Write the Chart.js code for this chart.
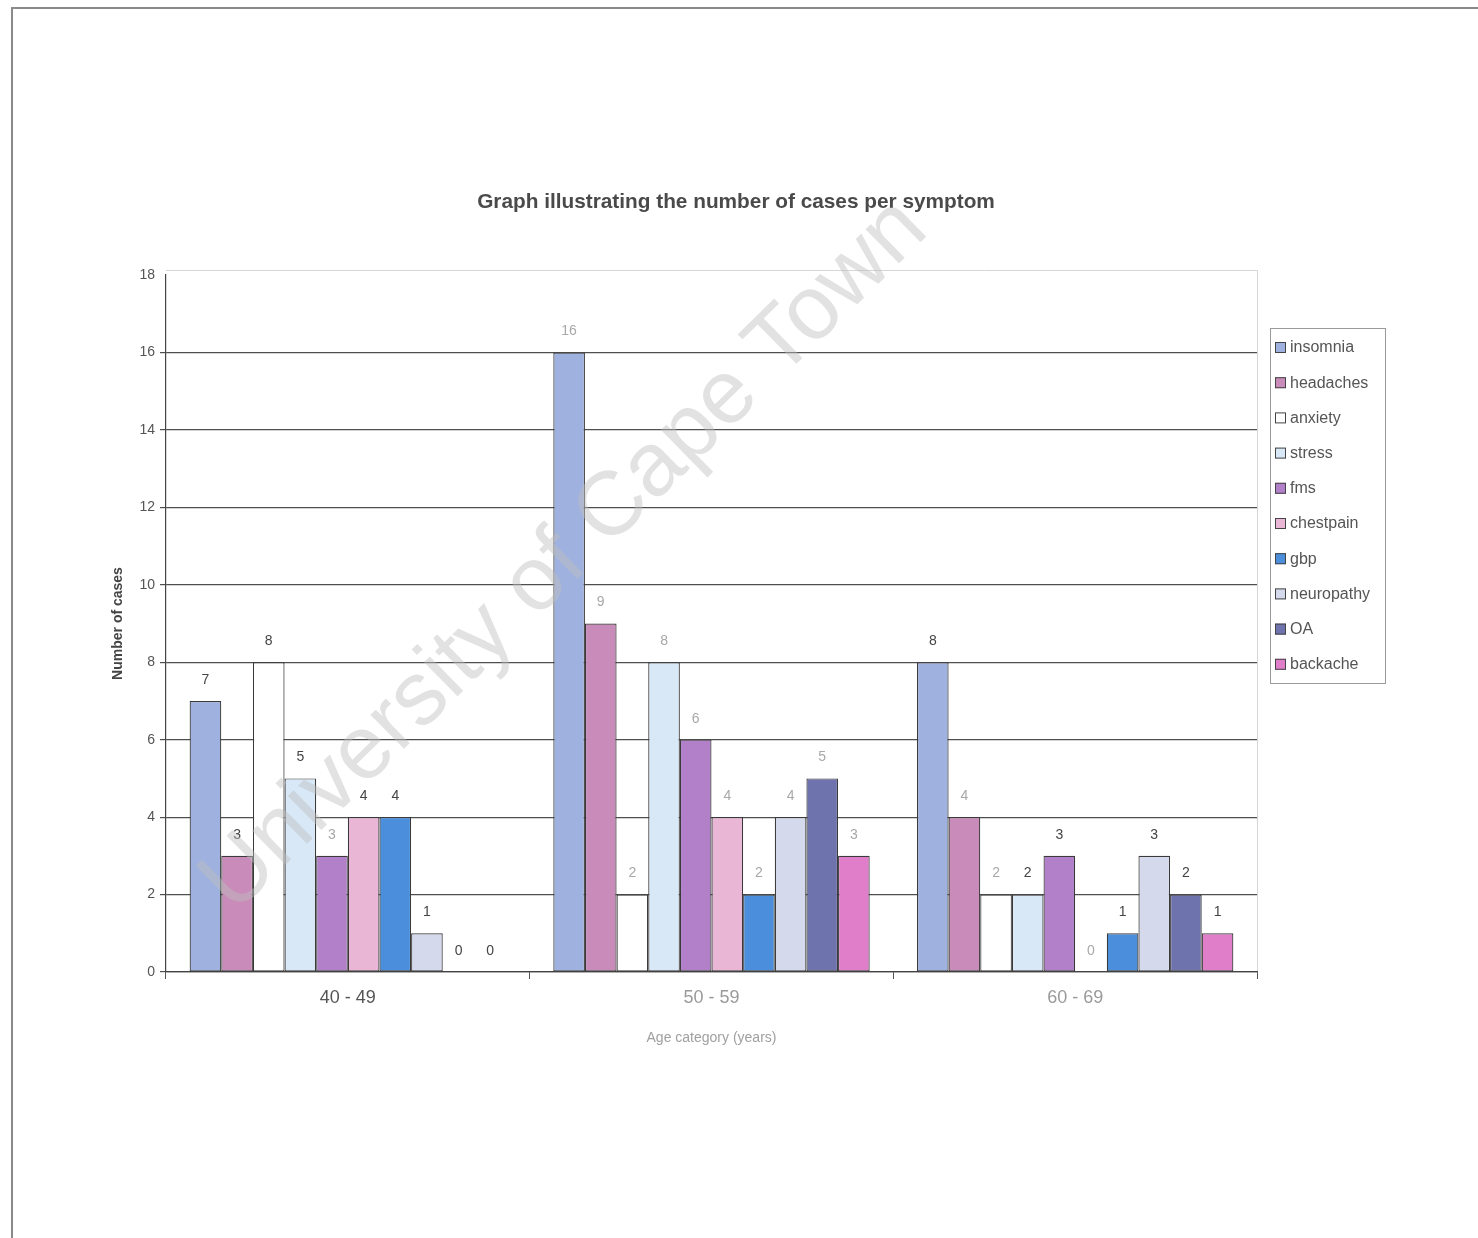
<!DOCTYPE html>
<html>
<head>
<meta charset="utf-8">
<title>Number of cases per symptom</title>
<script src="https://cdn.jsdelivr.net/npm/chart.js@4/dist/chart.umd.min.js"></script>
<style>
  html, body { margin: 0; padding: 0; background: #fff; }
  #wrap { width: 1478px; height: 1238px; position: relative; }
</style>
</head>
<body>
<div id="wrap"><canvas id="chart" width="1478" height="1238"></canvas></div>
<script>
// Age groups and symptom counts
const categories = ['40 - 49', '50 - 59', '60 - 69'];
const seriesNames = ['insomnia', 'headaches', 'anxiety', 'stress', 'fms', 'chestpain', 'gbp', 'neuropathy', 'OA', 'backache'];
const insomnia   = [7, 16, 8];
const headaches  = [3, 9, 4];
const anxiety    = [8, 2, 2];
const stress     = [5, 8, 2];
const fms        = [3, 6, 3];
const chestpain  = [4, 4, 0];
const gbp        = [4, 2, 1];
const neuropathy = [1, 4, 3];
const oa         = [0, 5, 2];
const backache   = [0, 3, 1];
const yTicks = [0, 2, 4, 6, 8, 10, 12, 14, 16, 18];

const seriesValues = [insomnia, headaches, anxiety, stress, fms, chestpain, gbp, neuropathy, oa, backache];
const seriesColors = ['#9fb1de', '#c98bb9', '#ffffff', '#d8e8f6', '#b27fc9', '#e9b6d5', '#4b8fdc', '#d5d9ec', '#6e72ad', '#e07ec9'];

// value labels printed in a lighter grey: [series index, category index]
const lightLabels = [[4,0],[0,1],[1,1],[2,1],[3,1],[4,1],[5,1],[6,1],[7,1],[8,1],[9,1],[1,2],[2,2],[5,2]];
const isLight = (d, c) => lightLabels.some(p => p[0] === d && p[1] === c);

const FONT = 'Arial, "Liberation Sans", sans-serif';
const TITLE = 'Graph illustrating the number of cases per symptom';

const datasets = seriesNames.map((name, i) => ({
  label: name,
  data: seriesValues[i],
  backgroundColor: seriesColors[i],
  borderColor: '#3a3a3a',
  borderWidth: 1.2,
  borderSkipped: false,
  categoryPercentage: 0.87,
  barPercentage: 1.0
}));

// page frame, title, legend box, value labels and watermark
const decorations = {
  id: 'decorations',
  beforeDraw(chart) {
    const ctx = chart.ctx;
    ctx.save();
    ctx.fillStyle = '#fff';
    ctx.fillRect(0, 0, chart.width, chart.height);
    ctx.strokeStyle = '#8a8a8a';
    ctx.lineWidth = 2;
    ctx.beginPath();
    ctx.moveTo(12, 1238);
    ctx.lineTo(12, 8);
    ctx.lineTo(1478, 8);
    ctx.stroke();
    // light plot frame (top and right)
    const a = chart.chartArea;
    ctx.strokeStyle = '#d6d6d6';
    ctx.lineWidth = 1;
    ctx.beginPath();
    ctx.moveTo(a.left, a.top - 4.5);
    ctx.lineTo(a.right + 0.5, a.top - 4.5);
    ctx.lineTo(a.right + 0.5, a.bottom);
    ctx.stroke();
    ctx.restore();
  },
  afterDatasetsDraw(chart) {
    const ctx = chart.ctx;
    ctx.save();
    // value labels above bars
    ctx.font = '14px ' + FONT;
    ctx.textAlign = 'center';
    ctx.textBaseline = 'middle';
    chart.data.datasets.forEach((ds, d) => {
      const meta = chart.getDatasetMeta(d);
      meta.data.forEach((el, c) => {
        ctx.fillStyle = isLight(d, c) ? '#a8a8a8' : '#444';
        ctx.fillText(String(ds.data[c]), el.x, el.y - 21);
      });
    });

    // title, sized to span its line
    ctx.fillStyle = '#4a4a4a';
    ctx.font = 'bold 18px ' + FONT;
    const tSize = 18 * 518 / ctx.measureText(TITLE).width;
    ctx.font = 'bold ' + tSize.toFixed(1) + 'px ' + FONT;
    ctx.fillText(TITLE, 736, 202);

    // legend
    const lx = 1270, ly = 328, lw = 115, lh = 355;
    ctx.strokeStyle = '#9a9a9a';
    ctx.lineWidth = 1;
    ctx.strokeRect(lx + 0.5, ly + 0.5, lw, lh);
    ctx.font = '16px ' + FONT;
    ctx.textAlign = 'left';
    seriesNames.forEach((name, i) => {
      const y = 347 + i * 35.2;
      ctx.fillStyle = seriesColors[i];
      ctx.fillRect(lx + 5, y - 5, 11, 11);
      ctx.strokeStyle = '#444';
      ctx.strokeRect(lx + 5.5, y - 4.5, 10, 10);
      ctx.fillStyle = '#555';
      ctx.fillText(name, lx + 20, y + 1);
    });

    // watermark
    const text = 'University of Cape Town';
    ctx.translate(565, 556);
    ctx.rotate(-Math.PI / 4.05);
    let size = 90;
    ctx.font = size + 'px ' + FONT;
    size = size * 975 / ctx.measureText(text).width;
    ctx.font = size + 'px ' + FONT;
    ctx.textAlign = 'center';
    ctx.fillStyle = 'rgba(190,190,190,0.45)';
    ctx.fillText(text, 0, 0);
    ctx.restore();
  }
};

const xLabelColors = ['#555', '#9a9a9a', '#9a9a9a'];

new Chart(document.getElementById('chart'), {
  type: 'bar',
  data: { labels: categories, datasets },
  options: {
    responsive: false,
    animation: false,
    devicePixelRatio: 1,
    layout: { padding: { left: 106, right: 221, top: 275, bottom: 187 } },
    plugins: {
      legend: { display: false },
      tooltip: { enabled: false },
      title: { display: false }
    },
    scales: {
      x: {
        grid: { display: true, drawOnChartArea: false, offset: true, color: '#555', tickLength: 7 },
        border: { color: '#444', width: 1.2 },
        ticks: {
          color: ctx => xLabelColors[ctx.index],
          font: { size: 18, family: FONT },
          padding: 8
        },
        title: {
          display: true,
          text: 'Age category (years)',
          color: '#a0a0a0',
          font: { size: 14, family: FONT },
          padding: { top: 7 }
        },
        afterFit: s => { s.height = 79; }
      },
      y: {
        min: 0,
        max: 18,
        afterBuildTicks: s => { s.ticks = yTicks.map(v => ({ value: v })); },
        grid: {
          color: ctx => (ctx.tick && ctx.tick.value === 18) ? 'rgba(0,0,0,0)' : '#4f4f4f',
          lineWidth: 1.2,
          tickLength: 6
        },
        border: { color: '#444', width: 1.2 },
        ticks: {
          color: '#555',
          font: { size: 14, family: FONT },
          padding: 5
        },
        title: {
          display: true,
          text: 'Number of cases',
          color: '#444',
          font: { size: 14, family: FONT, weight: 'bold' },
          padding: { bottom: 10 }
        },
        afterFit: s => { s.width = 60; }
      }
    }
  },
  plugins: [decorations]
});
</script>
</body>
</html>
